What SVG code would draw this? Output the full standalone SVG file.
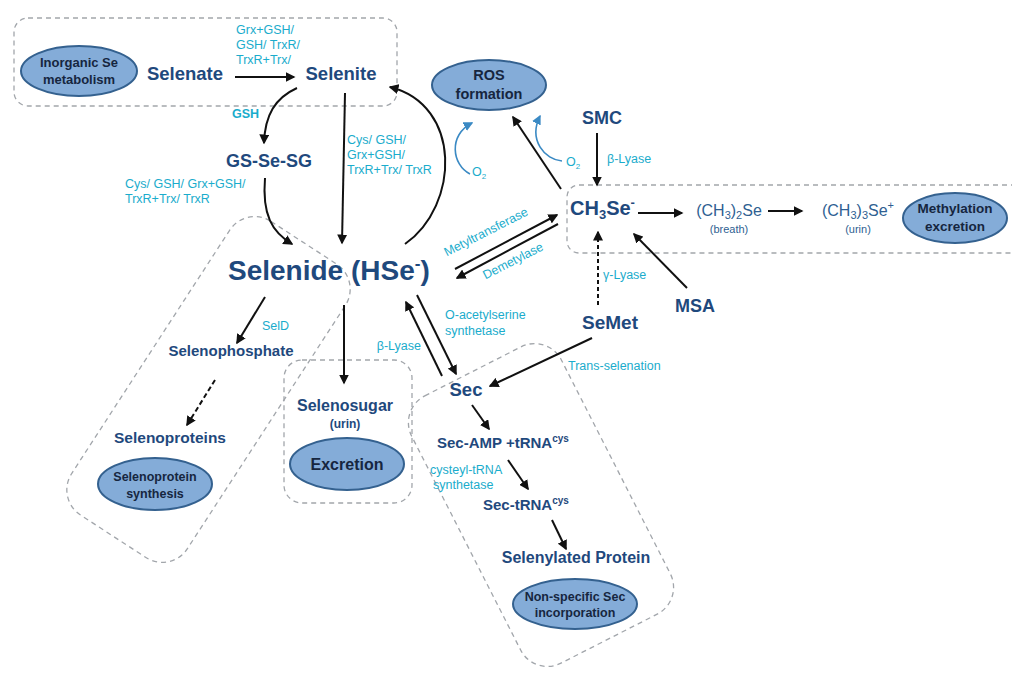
<svg xmlns="http://www.w3.org/2000/svg" width="1012" height="673" viewBox="0 0 1012 673">
<defs>
<marker id="ah" viewBox="0 0 10 10" refX="8.5" refY="5" markerWidth="5" markerHeight="5" orient="auto" markerUnits="strokeWidth"><path d="M0,0 L10,5 L0,10 z" fill="#111"/></marker>
<marker id="ahb" viewBox="0 0 10 10" refX="8.5" refY="5" markerWidth="6" markerHeight="6" orient="auto" markerUnits="strokeWidth"><path d="M0,0 L10,5 L0,10 z" fill="#3b8ac4"/></marker>
<style>
text{font-family:"Liberation Sans",Arial,sans-serif}
.grp{fill:none;stroke:#a2a6ab;stroke-width:1.3;stroke-dasharray:5 4}
.ell{fill:#84acd8;stroke:#34618f;stroke-width:2}
.et{font-weight:bold;fill:#16263f;text-anchor:middle}
.n{font-weight:bold;fill:#1f497d}
.m{fill:#2f5f92}
.c{fill:#1aaccc;font-size:12.5px}
.a{fill:none;stroke:#111;stroke-width:2;marker-end:url(#ah)}
.b{fill:none;stroke:#3b8ac4;stroke-width:1.6;marker-end:url(#ahb)}
</style>
</defs>
<g id="groups">
<rect x="14" y="18" width="383" height="88" rx="14" class="grp"/>
<rect x="567" y="185" width="460" height="68" rx="12" class="grp"/>
<rect x="-69" y="-175" width="138" height="350" rx="30" class="grp" transform="translate(208.5,389.5) rotate(33)"/>
<rect x="284" y="360" width="128" height="143" rx="18" class="grp"/>
<rect x="-84" y="-150" width="168" height="300" rx="30" class="grp" transform="translate(541,505) rotate(-27)"/>
</g>
<g id="connectors">
<path class="a" d="M235 77 L294 77"/>
<path class="a" d="M297 88 C275 98 265 115 264 143"/>
<path class="a" d="M265 178 C262 215 272 232 292 244"/>
<path class="a" d="M345 93 L342 243"/>
<path class="a" d="M405 244 C460 205 462 105 390 87"/>
<path class="a" d="M455 269 L557 215"/>
<path class="a" d="M558 224 L457 278"/>
<path class="a" d="M638 213 L682 213"/>
<path class="a" d="M768 211 L802 211"/>
<path class="a" d="M597 133 L597 185"/>
<path class="a" d="M561 189 L513 117"/>
<path class="a" d="M598 305 L598 232" stroke-dasharray="4 3"/>
<path class="a" d="M687 288 L634 234"/>
<path class="a" d="M265 297 L237 343"/>
<path class="a" d="M215 380 L187 425" stroke-dasharray="5 3"/>
<path class="a" d="M344 305 L344 383"/>
<path class="a" d="M417 295 L456 374"/>
<path class="a" d="M442 376 L406 302"/>
<path class="a" d="M592 338 L490 386"/>
<path class="a" d="M472 405 L489 429"/>
<path class="a" d="M508 460 L528 489"/>
<path class="a" d="M552 520 L566 549"/>
<path class="b" d="M470 174 C452 165 448 135 472 123"/>
<path class="b" d="M562 161 C545 160 528 140 540 116"/>
</g>
<g id="labels">
<text class="c" x="236" y="34">Grx+GSH/</text>
<text class="c" x="236" y="49">GSH/ TrxR/</text>
<text class="c" x="236" y="64">TrxR+Trx/</text>
<text class="c" x="232" y="118" font-weight="bold" font-size="11">GSH</text>
<text class="c" x="125" y="188">Cys/ GSH/ Grx+GSH/</text>
<text class="c" x="125" y="203">TrxR+Trx/ TrxR</text>
<text class="c" x="347" y="144">Cys/ GSH/</text>
<text class="c" x="347" y="159">Grx+GSH/</text>
<text class="c" x="347" y="174">TrxR+Trx/ TrxR</text>
<text class="c" x="486" y="236" text-anchor="middle" transform="rotate(-27 486 232)">Metyltransferase</text>
<text class="c" x="513" y="265" text-anchor="middle" transform="rotate(-27 513 261)">Demetylase</text>
<text class="c" x="607" y="163">β-Lyase</text>
<text class="c" x="566" y="166">O<tspan font-size="8" dy="3">2</tspan></text>
<text class="c" x="472" y="176">O<tspan font-size="8" dy="3">2</tspan></text>
<text class="c" x="603" y="279">γ-Lyase</text>
<text class="c" x="262" y="330" font-size="13">SelD</text>
<text class="c" x="421" y="350" text-anchor="end">β-Lyase</text>
<text class="c" x="445" y="319">O-acetylserine</text>
<text class="c" x="445" y="335">synthetase</text>
<text class="c" x="568" y="370">Trans-selenation</text>
<text class="c" x="430" y="474">cysteyl-tRNA</text>
<text class="c" x="433" y="489">synthetase</text>
</g>
<g id="n-inorganic"><ellipse class="ell" cx="79" cy="71" rx="58" ry="25"/><text class="et" x="79" y="67" font-size="13">Inorganic Se</text><text class="et" x="79" y="84" font-size="13">metabolism</text></g>
<g id="n-selenate"><text class="n" x="185" y="80" font-size="18.5" text-anchor="middle">Selenate</text></g>
<g id="n-selenite"><text class="n" x="341" y="80" font-size="18.5" text-anchor="middle">Selenite</text></g>
<g id="n-gssesg"><text class="n" x="269" y="167" font-size="18" text-anchor="middle">GS-Se-SG</text></g>
<g id="n-ros"><ellipse class="ell" cx="489" cy="85" rx="57" ry="25"/><text class="et" x="489" y="80" font-size="14.5">ROS</text><text class="et" x="489" y="99" font-size="14.5">formation</text></g>
<g id="n-smc"><text class="n" x="602" y="124" font-size="18" text-anchor="middle">SMC</text></g>
<g id="n-selenide"><text class="n" x="228" y="280" font-size="28">Selenide (HSe<tspan font-size="17" dy="-11">-</tspan><tspan dy="11">)</tspan></text></g>
<g id="n-ch3se"><text class="n" x="570" y="215" font-size="20" font-weight="bold">CH<tspan font-size="13" dy="4">3</tspan><tspan dy="-4">Se</tspan><tspan font-size="13" dy="-8">-</tspan></text></g>
<g id="n-dmse"><text class="m" x="729" y="216" font-size="16" text-anchor="middle">(CH<tspan font-size="11" dy="3">3</tspan><tspan dy="-3">)</tspan><tspan font-size="11" dy="3">2</tspan><tspan dy="-3">Se</tspan></text><text class="m" x="729" y="233" font-size="11" text-anchor="middle">(breath)</text></g>
<g id="n-tmse"><text class="m" x="858" y="216" font-size="16" text-anchor="middle">(CH<tspan font-size="11" dy="3">3</tspan><tspan dy="-3">)</tspan><tspan font-size="11" dy="3">3</tspan><tspan dy="-3">Se</tspan><tspan font-size="11" dy="-7">+</tspan></text><text class="m" x="858" y="233" font-size="11" text-anchor="middle">(urin)</text></g>
<g id="n-methylation"><ellipse class="ell" cx="955" cy="218" rx="52" ry="25"/><text class="et" x="955" y="213" font-size="13.5">Methylation</text><text class="et" x="955" y="231" font-size="13.5">excretion</text></g>
<g id="n-msa"><text class="n" x="695" y="312" font-size="18" text-anchor="middle">MSA</text></g>
<g id="n-semet"><text class="n" x="610" y="329" font-size="19" text-anchor="middle">SeMet</text></g>
<g id="n-selenophosphate"><text class="n" x="231" y="356" font-size="15" text-anchor="middle">Selenophosphate</text></g>
<g id="n-selenoproteins"><text class="n" x="170" y="443" font-size="15.5" text-anchor="middle">Selenoproteins</text></g>
<g id="n-selsynth"><ellipse class="ell" cx="155" cy="484" rx="57" ry="26"/><text class="et" x="155" y="481" font-size="12.5">Selenoprotein</text><text class="et" x="155" y="498" font-size="12.5">synthesis</text></g>
<g id="n-selenosugar"><text class="n" x="345" y="411" font-size="16" text-anchor="middle">Selenosugar</text><text class="n" x="345" y="428" font-size="12" text-anchor="middle">(urin)</text></g>
<g id="n-excretion"><ellipse class="ell" cx="347" cy="464" rx="57" ry="26"/><text class="et" x="347" y="470" font-size="16">Excretion</text></g>
<g id="n-sec"><text class="n" x="466" y="396" font-size="18.5" text-anchor="middle">Sec</text></g>
<g id="n-secamp"><text class="n" x="437" y="448" font-size="15">Sec-AMP +tRNA<tspan font-size="10" dy="-6">cys</tspan></text></g>
<g id="n-sectrna"><text class="n" x="483" y="510" font-size="15">Sec-tRNA<tspan font-size="10" dy="-6">cys</tspan></text></g>
<g id="n-selenylated"><text class="n" x="576" y="563" font-size="16" text-anchor="middle">Selenylated Protein</text></g>
<g id="n-nonspecific"><ellipse class="ell" cx="575" cy="604" rx="62" ry="25"/><text class="et" x="575" y="601" font-size="12.5">Non-specific Sec</text><text class="et" x="575" y="617" font-size="12.5">incorporation</text></g>
</svg>
